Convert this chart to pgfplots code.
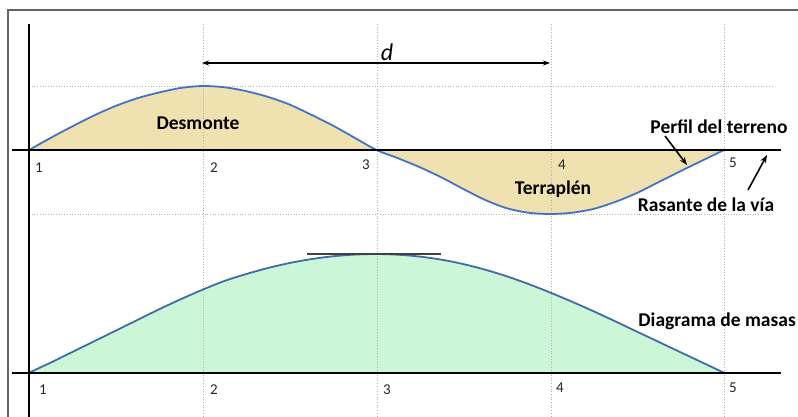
\documentclass[border=0pt]{standalone}
\usepackage{fontspec}
\setmainfont{Carlito}
\usepackage{pgfplots}
\usepackage{pgfplotstable}
\pgfplotsset{compat=1.18}
\usetikzlibrary{arrows.meta}

\definecolor{desmonte}{RGB}{239,226,176}
\definecolor{masas}{RGB}{204,246,216}
\definecolor{perfil}{RGB}{68,114,196}
\definecolor{masaline}{RGB}{66,108,165}
\definecolor{marco}{RGB}{100,100,100}

% estacion, cota del terreno sobre la rasante (relativa)
\pgfplotstableread{
x y
1.000 0
1.125 0.19
1.250 0.37
1.375 0.54
1.500 0.69
1.625 0.81
1.750 0.90
1.875 0.97
2.000 1.00
2.125 0.98
2.250 0.92
2.375 0.83
2.500 0.71
2.625 0.55
2.750 0.38
2.875 0.19
3.000 0
3.125 -0.13
3.250 -0.27
3.375 -0.43
3.500 -0.61
3.625 -0.78
3.750 -0.91
3.875 -0.98
4.000 -1.00
4.125 -0.98
4.250 -0.92
4.375 -0.81
4.500 -0.67
4.625 -0.50
4.750 -0.33
4.875 -0.165
5.000 0
}\terreno

% estacion, ordenada del diagrama de masas (relativa)
\pgfplotstableread{
x y
1.000 0
1.125 0.085
1.250 0.175
1.375 0.265
1.500 0.355
1.625 0.445
1.750 0.535
1.875 0.620
2.000 0.700
2.125 0.773
2.250 0.831
2.375 0.882
2.500 0.924
2.625 0.957
2.750 0.981
2.875 0.995
3.000 1.000
3.125 0.994
3.250 0.978
3.375 0.952
3.500 0.915
3.625 0.868
3.750 0.812
3.875 0.747
4.000 0.675
4.125 0.598
4.250 0.517
4.375 0.432
4.500 0.345
4.625 0.259
4.750 0.172
4.875 0.086
5.000 0
}\masa

\pgfplotsset{
  base/.style={width=798pt, height=416pt, scale only axis, hide axis,
    at={(0pt,0pt)}, anchor=south west,
    xmin=0.83309, xmax=5.42590, clip=false},
  arriba/.style={base, ymin=-4.15625, ymax=2.34375},
  abajo/.style={base, ymin=-0.3648, ymax=3.1398},
}

\begin{document}
\begin{tikzpicture}[x=1pt,y=1pt]
\useasboundingbox (0,0) rectangle (798,416);
\clip (0,0) rectangle (798,416);

% rellenos
\begin{axis}[arriba]
\addplot[fill=desmonte, draw=none, smooth] table {\terreno};
\end{axis}
\begin{axis}[abajo]
\addplot[fill=masas, draw=none, smooth] table {\masa};
\end{axis}

% rejilla punteada
\foreach \xx in {203,377,551,724}
  \draw[gray!60, line width=0.7pt, dotted] (\xx,392) -- (\xx,0);
\draw[gray!60, line width=0.7pt, dotted] (29,330) -- (773,330);
\draw[gray!60, line width=0.7pt, dotted] (29,202) -- (773,202);

% curvas
\begin{axis}[arriba]
\addplot[perfil, line width=1.8pt, smooth] table {\terreno};
\end{axis}
\begin{axis}[abajo]
\addplot[masaline, line width=1.8pt, smooth] table {\masa};
\end{axis}

% marco y ejes
\draw[marco, line width=1.2pt] (810,406) -- (8,406) -- (8,-5);
\draw[black, line width=2pt] (29,392) -- (29,-5);
\draw[black, line width=2pt] (12,266) -- (781,266);
\draw[black, line width=2pt] (12,43.3) -- (781,43.3);
\draw[black!75, line width=1.7pt] (307,162.3) -- (441,162.3);

% cotas y flechas
\draw[line width=1.5pt, {Stealth[length=7pt,width=5pt]}-{Stealth[length=7pt,width=5pt]}] (202,353) -- (550,353);
\node[font=\itshape\fontsize{24}{26}\selectfont] at (387,364) {d};
\draw[line width=1.6pt, -{Stealth[length=8pt,width=6pt]}] (665,280) -- (687,251);
\draw[line width=1.6pt, -{Stealth[length=8pt,width=6pt]}] (748,226) -- (767,261);

% textos
\tikzset{lab/.style={font=\bfseries\fontsize{19.5}{21}\selectfont},
         num/.style={font=\fontsize{15}{16}\selectfont, text=black!85}}
\node[lab] at (198,293) {Desmonte};
\node[lab] at (553,227) {Terraplén};
\node[lab] at (719,289) {Perfil del terreno};
\node[lab] at (706,211) {Rasante de la vía};
\node[lab, anchor=east, inner sep=0pt] at (796,95) {Diagrama de masas};

\node[num] at (39,248) {1};
\node[num] at (214,248) {2};
\node[num] at (366,251) {3};
\node[num] at (562,251) {4};
\node[num] at (733,253) {5};
\node[num] at (43,26) {1};
\node[num] at (214,26) {2};
\node[num] at (387,26) {3};
\node[num] at (560,28) {4};
\node[num] at (733,28) {5};
\end{tikzpicture}
\end{document}
